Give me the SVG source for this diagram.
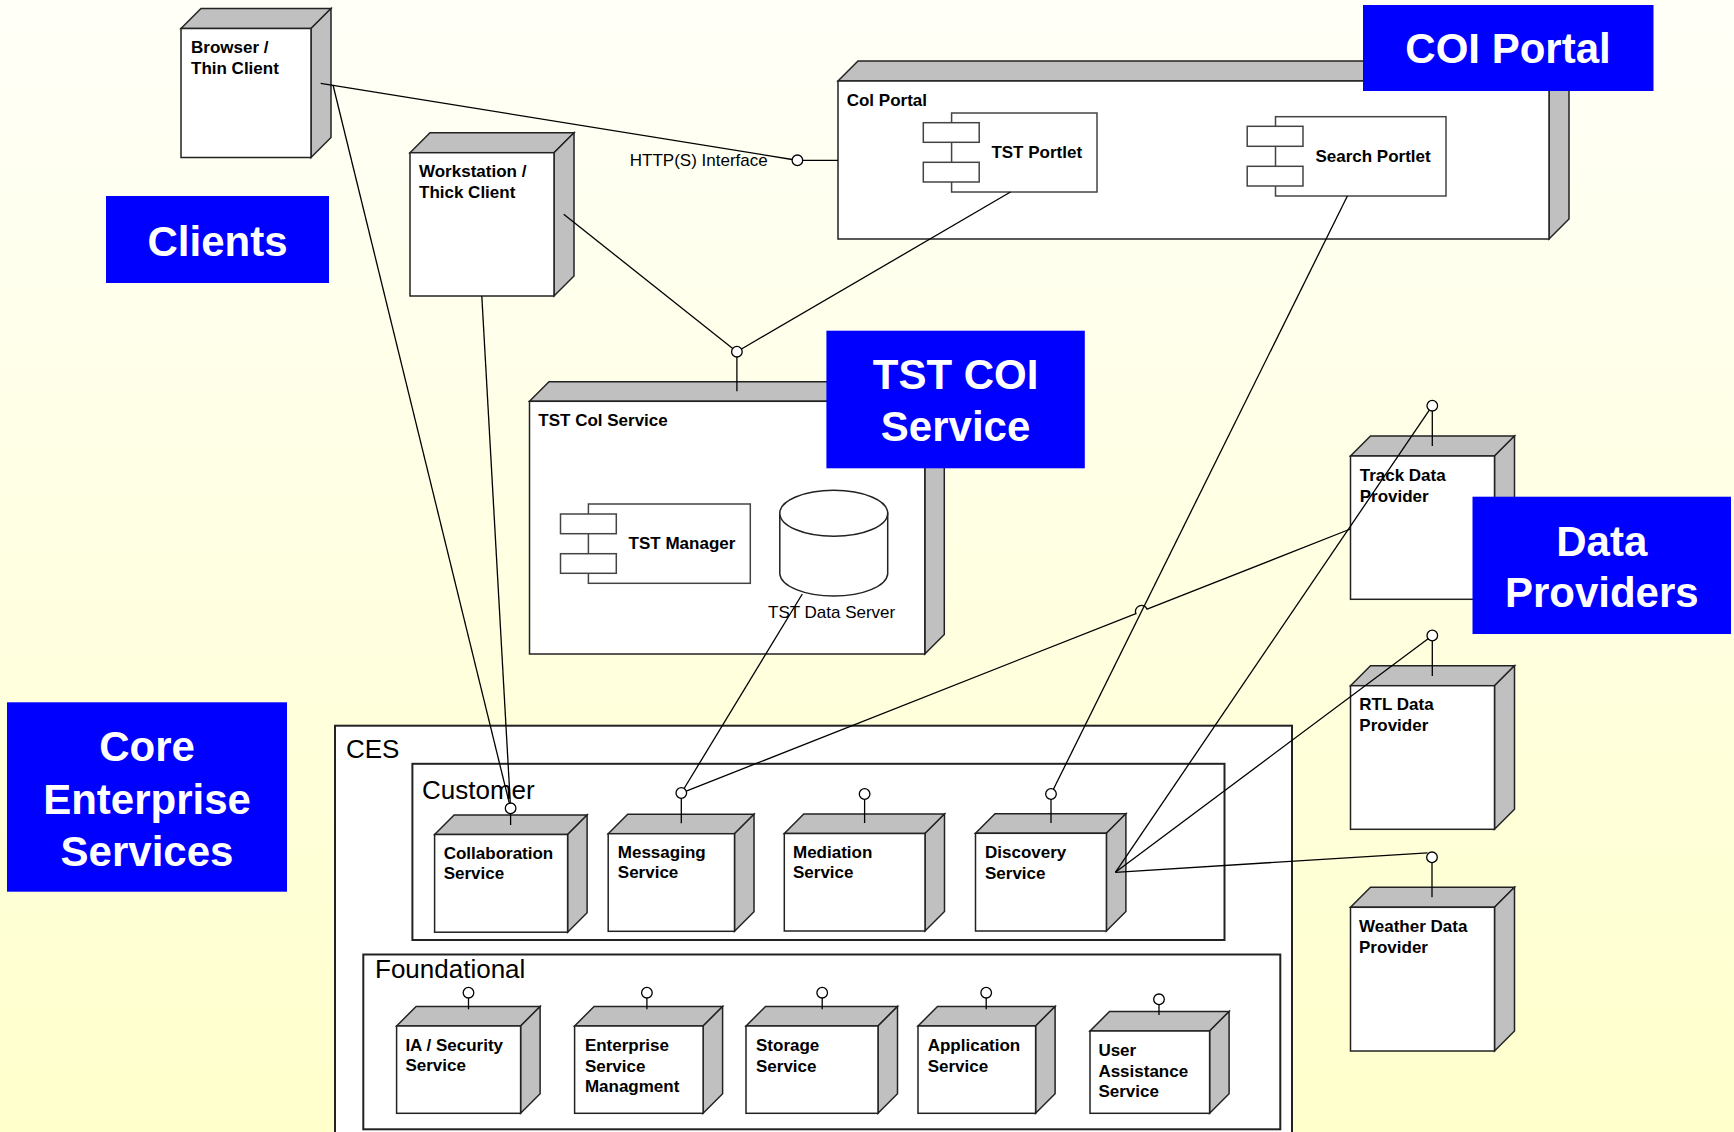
<svg xmlns="http://www.w3.org/2000/svg" width="1734" height="1132" viewBox="0 0 1734 1132">
<defs>
<linearGradient id="bg" x1="0" y1="0" x2="0" y2="1">
<stop offset="0" stop-color="#FFFFF8"/>
<stop offset="1" stop-color="#FFFFCC"/>
</linearGradient>
</defs>
<style>
.face{fill:#fff;stroke:#222;stroke-width:1.5}
.shade{fill:#C0C0C0;stroke:#222;stroke-width:1.5}
.cont{fill:#fff;stroke:#222;stroke-width:2}
.comp{fill:#fff;stroke:#444;stroke-width:1.5}
.conn{fill:none;stroke:#000;stroke-width:1.3}
.iface{fill:#fff;stroke:#000;stroke-width:1.3}
.stick{stroke:#000;stroke-width:1.3}
.lbl{font-family:"Liberation Sans",Arial,sans-serif;font-weight:bold;font-size:17px;fill:#000}
.reg{font-family:"Liberation Sans",Arial,sans-serif;font-size:17px;fill:#000}
.pkg{font-family:"Liberation Sans",Arial,sans-serif;font-size:26px;fill:#000}
.band{fill:#0000FF}
.big{font-family:"Liberation Sans",Arial,sans-serif;font-weight:bold;font-size:42px;fill:#fff;text-anchor:middle}
</style>
<rect x="0" y="0" width="1734" height="1132" fill="url(#bg)"/>

<!-- Containers -->
<g id="ces">
<rect class="cont" x="335" y="725.7" width="957" height="420"/>
<text class="pkg" x="346" y="757.5">CES</text>
</g>
<g id="customer">
<rect class="cont" x="412.4" y="763.8" width="812.1" height="176.2"/>
<text class="pkg" x="422" y="798.7">Customer</text>
</g>
<g id="foundational">
<rect class="cont" x="363.3" y="954.5" width="917" height="174.8"/>
<text class="pkg" x="375" y="978.3">Foundational</text>
</g>

<!-- Client nodes -->
<g id="browser">
<polygon class="shade" points="181,28.5 201,8.5 331,8.5 311,28.5"/>
<polygon class="shade" points="311,28.5 331,8.5 331,137.5 311,157.5"/>
<rect class="face" x="181" y="28.5" width="130" height="129"/>
<text class="lbl" x="191" y="53">Browser /</text>
<text class="lbl" x="191" y="74">Thin Client</text>
</g>
<g id="workstation">
<polygon class="shade" points="410,152.7 430,132.7 574,132.7 554,152.7"/>
<polygon class="shade" points="554,152.7 574,132.7 574,276 554,296"/>
<rect class="face" x="410" y="152.7" width="144" height="143.3"/>
<text class="lbl" x="419" y="177">Workstation /</text>
<text class="lbl" x="419" y="198">Thick Client</text>
</g>

<!-- CoI Portal -->
<g id="col-portal">
<polygon class="shade" points="838,81 858,61 1569,61 1549,81"/>
<polygon class="shade" points="1549,81 1569,61 1569,219 1549,239"/>
<rect class="face" x="838" y="81" width="711" height="158"/>
<text class="lbl" x="846.7" y="106">Col Portal</text>
<line class="stick" x1="802.7" y1="160.3" x2="838" y2="160.3"/>
<circle class="iface" cx="797.4" cy="160.3" r="5.3"/>
<text class="reg" x="629.8" y="165.7">HTTP(S) Interface</text>
</g>
<g id="tst-portlet">
<rect class="comp" x="951.6" y="113" width="145.4" height="79"/>
<rect class="comp" x="923.3" y="122.7" width="55.9" height="19.6"/>
<rect class="comp" x="923.3" y="162.3" width="55.9" height="19.7"/>
<text class="lbl" x="991.4" y="157.7">TST Portlet</text>
</g>
<g id="search-portlet">
<rect class="comp" x="1275.5" y="116.7" width="170.5" height="79.3"/>
<rect class="comp" x="1247.2" y="126.3" width="55.8" height="20"/>
<rect class="comp" x="1247.2" y="166.3" width="55.8" height="19.7"/>
<text class="lbl" x="1315.4" y="161.7">Search Portlet</text>
</g>

<!-- TST CoI Service -->
<g id="tst-col-service">
<polygon class="shade" points="529.5,401.3 549,381.8 944.3,381.8 924.8,401.3"/>
<polygon class="shade" points="924.8,401.3 944.3,381.8 944.3,634.5 924.8,654"/>
<rect class="face" x="529.5" y="401.3" width="395.3" height="252.7"/>
<text class="lbl" x="538.3" y="426">TST Col Service</text>
<line class="stick" x1="736.9" y1="357" x2="736.9" y2="391.3"/>
<circle class="iface" cx="736.9" cy="351.7" r="5.3"/>
</g>
<g id="tst-manager">
<rect class="comp" x="588.4" y="504" width="161.9" height="79.3"/>
<rect class="comp" x="560.5" y="514" width="55.8" height="19.7"/>
<rect class="comp" x="560.5" y="553.7" width="55.8" height="19.6"/>
<text class="lbl" x="628.6" y="549">TST Manager</text>
</g>
<g id="tst-data-server">
<path class="face" d="M779.8,513.3 L779.8,574 A54,23 0 0 0 887.7,574 L887.7,513.3 Z"/>
<ellipse class="face" cx="833.75" cy="513.3" rx="53.95" ry="23"/>
<text class="reg" x="768" y="617.7">TST Data Server</text>
</g>

<!-- Data providers -->
<g id="track-data-provider">
<polygon class="shade" points="1350.5,456 1370.5,436 1514.5,436 1494.5,456"/>
<polygon class="shade" points="1494.5,456 1514.5,436 1514.5,579.3 1494.5,599.3"/>
<rect class="face" x="1350.5" y="456" width="144" height="143.3"/>
<text class="lbl" x="1359.7" y="480.7">Track Data</text>
<text class="lbl" x="1359.7" y="501.7">Provider</text>
<line class="stick" x1="1432.3" y1="411" x2="1432.3" y2="446"/>
<circle class="iface" cx="1432.3" cy="405.7" r="5.3"/>
</g>
<g id="rtl-data-provider">
<polygon class="shade" points="1350.5,685.7 1370.5,665.7 1514.5,665.7 1494.5,685.7"/>
<polygon class="shade" points="1494.5,685.7 1514.5,665.7 1514.5,809.3 1494.5,829.3"/>
<rect class="face" x="1350.5" y="685.7" width="144" height="143.6"/>
<text class="lbl" x="1359.3" y="710">RTL Data</text>
<text class="lbl" x="1359.3" y="731">Provider</text>
<line class="stick" x1="1432.3" y1="640.8" x2="1432.3" y2="676"/>
<circle class="iface" cx="1432.3" cy="635.5" r="5.3"/>
</g>
<g id="weather-data-provider">
<polygon class="shade" points="1350.5,907.3 1370.5,887.3 1514.5,887.3 1494.5,907.3"/>
<polygon class="shade" points="1494.5,907.3 1514.5,887.3 1514.5,1031 1494.5,1051"/>
<rect class="face" x="1350.5" y="907.3" width="144" height="143.7"/>
<text class="lbl" x="1359" y="932.3">Weather Data</text>
<text class="lbl" x="1359" y="953.3">Provider</text>
<line class="stick" x1="1432" y1="862.6" x2="1432" y2="897.3"/>
<circle class="iface" cx="1432" cy="857.3" r="5.3"/>
</g>

<!-- Customer services -->
<g id="collaboration-service">
<polygon class="shade" points="434.6,834.5 454.1,815 587.1,815 567.6,834.5"/>
<polygon class="shade" points="567.6,834.5 587.1,815 587.1,912.7 567.6,932.2"/>
<rect class="face" x="434.6" y="834.5" width="133" height="97.7"/>
<text class="lbl" x="443.7" y="859">Collaboration</text>
<text class="lbl" x="443.7" y="879.3">Service</text>
<line class="stick" x1="510.6" y1="813.6" x2="510.6" y2="825"/>
<circle class="iface" cx="510.6" cy="808.3" r="5.3"/>
</g>
<g id="messaging-service">
<polygon class="shade" points="608.2,833.7 627.7,814.2 754,814.2 734.5,833.7"/>
<polygon class="shade" points="734.5,833.7 754,814.2 754,911.8 734.5,931.3"/>
<rect class="face" x="608.2" y="833.7" width="126.3" height="97.6"/>
<text class="lbl" x="617.8" y="858">Messaging</text>
<text class="lbl" x="617.8" y="878.3">Service</text>
<line class="stick" x1="681.3" y1="798.3" x2="681.3" y2="823.3"/>
<circle class="iface" cx="681.3" cy="793" r="5.3"/>
</g>
<g id="mediation-service">
<polygon class="shade" points="784.3,833.5 803.8,814 944.5,814 925,833.5"/>
<polygon class="shade" points="925,833.5 944.5,814 944.5,911.5 925,931"/>
<rect class="face" x="784.3" y="833.5" width="140.7" height="97.5"/>
<text class="lbl" x="793" y="858">Mediation</text>
<text class="lbl" x="793" y="878.3">Service</text>
<line class="stick" x1="864.6" y1="799.3" x2="864.6" y2="823"/>
<circle class="iface" cx="864.6" cy="794" r="5.3"/>
</g>
<g id="discovery-service">
<polygon class="shade" points="975.5,833.3 995,813.8 1125.9,813.8 1106.4,833.3"/>
<polygon class="shade" points="1106.4,833.3 1125.9,813.8 1125.9,911.5 1106.4,931"/>
<rect class="face" x="975.5" y="833.3" width="130.9" height="97.7"/>
<text class="lbl" x="985" y="858.3">Discovery</text>
<text class="lbl" x="985" y="878.6">Service</text>
<line class="stick" x1="1051" y1="799.3" x2="1051" y2="823"/>
<circle class="iface" cx="1051" cy="794" r="5.3"/>
</g>

<!-- Foundational services -->
<g id="ia-security-service">
<polygon class="shade" points="396.6,1026 416.1,1006.5 540.1,1006.5 520.6,1026"/>
<polygon class="shade" points="520.6,1026 540.1,1006.5 540.1,1093.8 520.6,1113.3"/>
<rect class="face" x="396.6" y="1026" width="124" height="87.3"/>
<text class="lbl" x="405.4" y="1051">IA / Security</text>
<text class="lbl" x="405.4" y="1071">Service</text>
<line class="stick" x1="468.5" y1="998" x2="468.5" y2="1009.3"/>
<circle class="iface" cx="468.5" cy="992.7" r="5.3"/>
</g>
<g id="enterprise-service-managment">
<polygon class="shade" points="574.6,1026 594.1,1006.5 722.6,1006.5 703.1,1026"/>
<polygon class="shade" points="703.1,1026 722.6,1006.5 722.6,1093.8 703.1,1113.3"/>
<rect class="face" x="574.6" y="1026" width="128.5" height="87.3"/>
<text class="lbl" x="584.9" y="1051">Enterprise</text>
<text class="lbl" x="584.9" y="1071.5">Service</text>
<text class="lbl" x="584.9" y="1091.7">Managment</text>
<line class="stick" x1="646.9" y1="998" x2="646.9" y2="1009.3"/>
<circle class="iface" cx="646.9" cy="992.7" r="5.3"/>
</g>
<g id="storage-service">
<polygon class="shade" points="746,1026 765.5,1006.5 897.5,1006.5 878,1026"/>
<polygon class="shade" points="878,1026 897.5,1006.5 897.5,1093.8 878,1113.3"/>
<rect class="face" x="746" y="1026" width="132" height="87.3"/>
<text class="lbl" x="756" y="1051">Storage</text>
<text class="lbl" x="756" y="1071.5">Service</text>
<line class="stick" x1="822.2" y1="998" x2="822.2" y2="1009.3"/>
<circle class="iface" cx="822.2" cy="992.7" r="5.3"/>
</g>
<g id="application-service">
<polygon class="shade" points="918,1026 937.5,1006.5 1055.1,1006.5 1035.6,1026"/>
<polygon class="shade" points="1035.6,1026 1055.1,1006.5 1055.1,1093.8 1035.6,1113.3"/>
<rect class="face" x="918" y="1026" width="117.6" height="87.3"/>
<text class="lbl" x="927.7" y="1050.7">Application</text>
<text class="lbl" x="927.7" y="1071.7">Service</text>
<line class="stick" x1="986.2" y1="998" x2="986.2" y2="1009.3"/>
<circle class="iface" cx="986.2" cy="992.7" r="5.3"/>
</g>
<g id="user-assistance-service">
<polygon class="shade" points="1090,1031 1109.5,1011.5 1229.1,1011.5 1209.6,1031"/>
<polygon class="shade" points="1209.6,1031 1229.1,1011.5 1229.1,1093.8 1209.6,1113.3"/>
<rect class="face" x="1090" y="1031" width="119.6" height="82.3"/>
<text class="lbl" x="1098.4" y="1055.7">User</text>
<text class="lbl" x="1098.4" y="1076.7">Assistance</text>
<text class="lbl" x="1098.4" y="1097.3">Service</text>
<line class="stick" x1="1159" y1="1004.6" x2="1159" y2="1015"/>
<circle class="iface" cx="1159" cy="999.3" r="5.3"/>
</g>

<!-- Connectors -->
<g id="connectors" class="conn">
<line x1="320.7" y1="83.3" x2="792.2" y2="159.5"/>
<line x1="333" y1="85" x2="509.3" y2="803.2"/>
<line x1="481.8" y1="296" x2="510.3" y2="803"/>
<line x1="563.7" y1="214.3" x2="732.7" y2="348.4"/>
<line x1="1010.5" y1="192" x2="741.5" y2="349"/>
<line x1="1347.4" y1="196" x2="1053.4" y2="789.3"/>
<line x1="802.3" y1="594" x2="684.1" y2="788.5"/>
<path d="M1350.4,529 L1147.1,609.2 A6,6 0 0 0 1135.9,613.6 L686.2,791.1"/>
<line x1="1429.3" y1="410.1" x2="1115.4" y2="872.3"/>
<line x1="1428.1" y1="638.7" x2="1115.4" y2="872.3"/>
<line x1="1427.5" y1="852.8" x2="1115.4" y2="872.3"/>
</g>

<!-- Section labels -->
<g id="label-clients">
<rect class="band" x="106" y="196" width="223" height="87"/>
<text class="big" x="217.5" y="256">Clients</text>
</g>
<g id="label-coi-portal">
<rect class="band" x="1363" y="5" width="290.5" height="86"/>
<text class="big" x="1508" y="63.3">COI Portal</text>
</g>
<g id="label-tst-coi-service">
<rect class="band" x="826.4" y="330.7" width="258.4" height="137.6"/>
<text class="big" x="955.6" y="389.3">TST COI</text>
<text class="big" x="955.6" y="440.7">Service</text>
</g>
<g id="label-data-providers">
<rect class="band" x="1472.5" y="496.7" width="258.5" height="137.3"/>
<text class="big" x="1601.8" y="555.7">Data</text>
<text class="big" x="1601.8" y="606.7">Providers</text>
</g>
<g id="label-ces">
<rect class="band" x="7" y="702.3" width="280" height="189.4"/>
<text class="big" x="147" y="761.3">Core</text>
<text class="big" x="147" y="813.5">Enterprise</text>
<text class="big" x="147" y="865.8">Services</text>
</g>
</svg>
